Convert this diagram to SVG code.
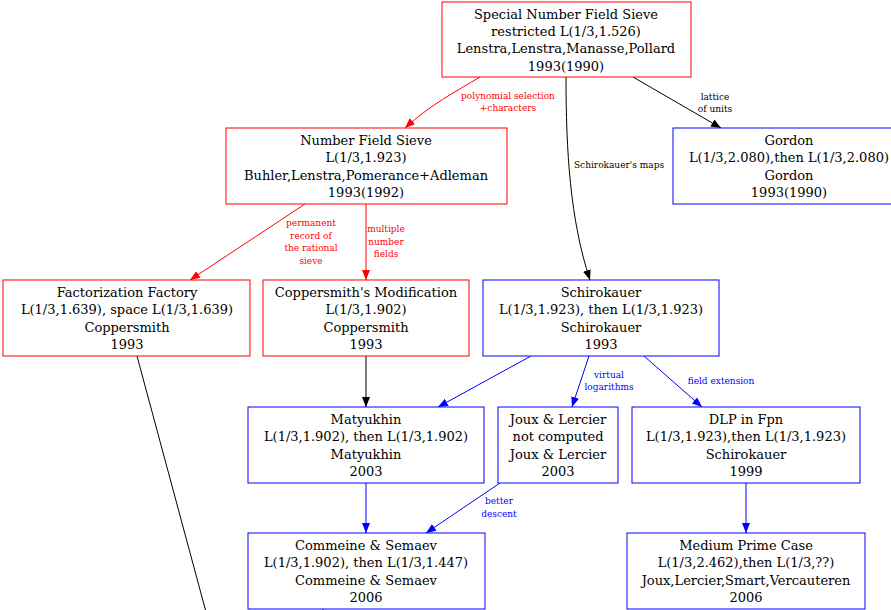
<svg xmlns="http://www.w3.org/2000/svg" width="891" height="610" viewBox="0 0 891 610">
<defs>
<style>
.n{font-family:"DejaVu Serif",serif;font-size:13px;text-anchor:middle;fill:#000}
.l{font-family:"DejaVu Serif",serif;font-size:9px;text-anchor:middle}
.r{fill:#fff;stroke:#ff0000;stroke-width:1}
.b{fill:#fff;stroke:#0000ff;stroke-width:1}
.er{fill:none;stroke:#ff0000}
.eb{fill:none;stroke:#0000ff}
.ek{fill:none;stroke:#000}
</style>
<marker id="ar" viewBox="0 0 10 10" refX="10" refY="5" markerWidth="10" markerHeight="10" markerUnits="userSpaceOnUse" orient="auto"><path d="M0,1L10,5L0,9z" fill="#ff0000"/></marker>
<marker id="ab" viewBox="0 0 10 10" refX="10" refY="5" markerWidth="10" markerHeight="10" markerUnits="userSpaceOnUse" orient="auto"><path d="M0,1L10,5L0,9z" fill="#0000ff"/></marker>
<marker id="ak" viewBox="0 0 10 10" refX="10" refY="5" markerWidth="10" markerHeight="10" markerUnits="userSpaceOnUse" orient="auto"><path d="M0,1L10,5L0,9z" fill="#000"/></marker>
</defs>
<rect width="891" height="610" fill="#fff"/>
<g id="edges">
<path class="er" d="M480,77 C455,92 430,105 405,128" marker-end="url(#ar)"/>
<text class="l" fill="#ff0000" x="508" y="99">polynomial selection</text>
<text class="l" fill="#ff0000" x="508" y="111">+characters</text>
<path class="ek" d="M566,77 C566,150 570,220 590,280" marker-end="url(#ak)"/>
<text class="l" fill="#000" x="619" y="168">Schirokauer's maps</text>
<path class="ek" d="M633,77 L721,128" marker-end="url(#ak)"/>
<text class="l" fill="#000" x="715" y="100">lattice</text>
<text class="l" fill="#000" x="715" y="112">of units</text>
<path class="er" d="M305,204 L190,280" marker-end="url(#ar)"/>
<text class="l" fill="#ff0000" x="311" y="226">permanent</text>
<text class="l" fill="#ff0000" x="311" y="239">record of</text>
<text class="l" fill="#ff0000" x="311" y="251">the rational</text>
<text class="l" fill="#ff0000" x="311" y="264">sieve</text>
<path class="er" d="M366,204 L366,280" marker-end="url(#ar)"/>
<text class="l" fill="#ff0000" x="386" y="232">multiple</text>
<text class="l" fill="#ff0000" x="386" y="245">number</text>
<text class="l" fill="#ff0000" x="386" y="257">fields</text>
<path class="ek" d="M366,356 L366,407" marker-end="url(#ak)"/>
<path class="eb" d="M531,356 L438,407" marker-end="url(#ab)"/>
<path class="eb" d="M589,356 L572,407" marker-end="url(#ab)"/>
<text class="l" fill="#0000ff" x="609" y="378">virtual</text>
<text class="l" fill="#0000ff" x="609" y="390">logarithms</text>
<path class="eb" d="M644,356 L702,407" marker-end="url(#ab)"/>
<text class="l" fill="#0000ff" x="721" y="384">field extension</text>
<path class="eb" d="M366,483 L366,533" marker-end="url(#ab)"/>
<path class="eb" d="M500,483 L426,533" marker-end="url(#ab)"/>
<text class="l" fill="#0000ff" x="499" y="504">better</text>
<text class="l" fill="#0000ff" x="499" y="517">descent</text>
<path class="eb" d="M746,483 L746,533" marker-end="url(#ab)"/>
<path class="ek" d="M137,356 L206,612"/>
<path class="ek" d="M323,609 L323,612"/>
</g>
<g id="snfs"><rect class="r" x="442" y="2" width="249" height="75"/>
<text class="n" x="566" y="19">Special Number Field Sieve</text><text class="n" x="566" y="36">restricted L(1/3,1.526)</text><text class="n" x="566" y="53">Lenstra,Lenstra,Manasse,Pollard</text><text class="n" x="566" y="71">1993(1990)</text></g>
<g id="nfs"><rect class="r" x="226" y="128" width="281" height="76"/>
<text class="n" x="366" y="145">Number Field Sieve</text><text class="n" x="366" y="162">L(1/3,1.923)</text><text class="n" x="366" y="180">Buhler,Lenstra,Pomerance+Adleman</text><text class="n" x="366" y="197">1993(1992)</text></g>
<g id="gordon"><rect class="b" x="673" y="128" width="220" height="76"/>
<text class="n" x="789" y="145">Gordon</text><text class="n" x="789" y="162">L(1/3,2.080),then L(1/3,2.080)</text><text class="n" x="789" y="180">Gordon</text><text class="n" x="789" y="197">1993(1990)</text></g>
<g id="ff"><rect class="r" x="3" y="280" width="247" height="76"/>
<text class="n" x="127" y="297">Factorization Factory</text><text class="n" x="127" y="314">L(1/3,1.639), space L(1/3,1.639)</text><text class="n" x="127" y="332">Coppersmith</text><text class="n" x="127" y="349">1993</text></g>
<g id="copper"><rect class="r" x="263" y="280" width="206" height="76"/>
<text class="n" x="366" y="297">Coppersmith's Modification</text><text class="n" x="366" y="314">L(1/3,1.902)</text><text class="n" x="366" y="332">Coppersmith</text><text class="n" x="366" y="349">1993</text></g>
<g id="schiro"><rect class="b" x="483" y="280" width="236" height="76"/>
<text class="n" x="601" y="297">Schirokauer</text><text class="n" x="601" y="314">L(1/3,1.923), then L(1/3,1.923)</text><text class="n" x="601" y="332">Schirokauer</text><text class="n" x="601" y="349">1993</text></g>
<g id="matyukhin"><rect class="b" x="248" y="407" width="236" height="76"/>
<text class="n" x="366" y="424">Matyukhin</text><text class="n" x="366" y="441">L(1/3,1.902), then L(1/3,1.902)</text><text class="n" x="366" y="459">Matyukhin</text><text class="n" x="366" y="476">2003</text></g>
<g id="joux"><rect class="b" x="498" y="407" width="120" height="76"/>
<text class="n" x="558" y="424">Joux &amp; Lercier</text><text class="n" x="558" y="441">not computed</text><text class="n" x="558" y="459">Joux &amp; Lercier</text><text class="n" x="558" y="476">2003</text></g>
<g id="dlp"><rect class="b" x="632" y="407" width="228" height="76"/>
<text class="n" x="746" y="424">DLP in Fpn</text><text class="n" x="746" y="441">L(1/3,1.923),then L(1/3,1.923)</text><text class="n" x="746" y="459">Schirokauer</text><text class="n" x="746" y="476">1999</text></g>
<g id="commeine"><rect class="b" x="248" y="533" width="237" height="76"/>
<text class="n" x="366" y="550">Commeine &amp; Semaev</text><text class="n" x="366" y="567">L(1/3,1.902), then L(1/3,1.447)</text><text class="n" x="366" y="585">Commeine &amp; Semaev</text><text class="n" x="366" y="602">2006</text></g>
<g id="medium"><rect class="b" x="627" y="533" width="238" height="76"/>
<text class="n" x="746" y="550">Medium Prime Case</text><text class="n" x="746" y="567">L(1/3,2.462),then L(1/3,??)</text><text class="n" x="746" y="585">Joux,Lercier,Smart,Vercauteren</text><text class="n" x="746" y="602">2006</text></g>
</svg>
